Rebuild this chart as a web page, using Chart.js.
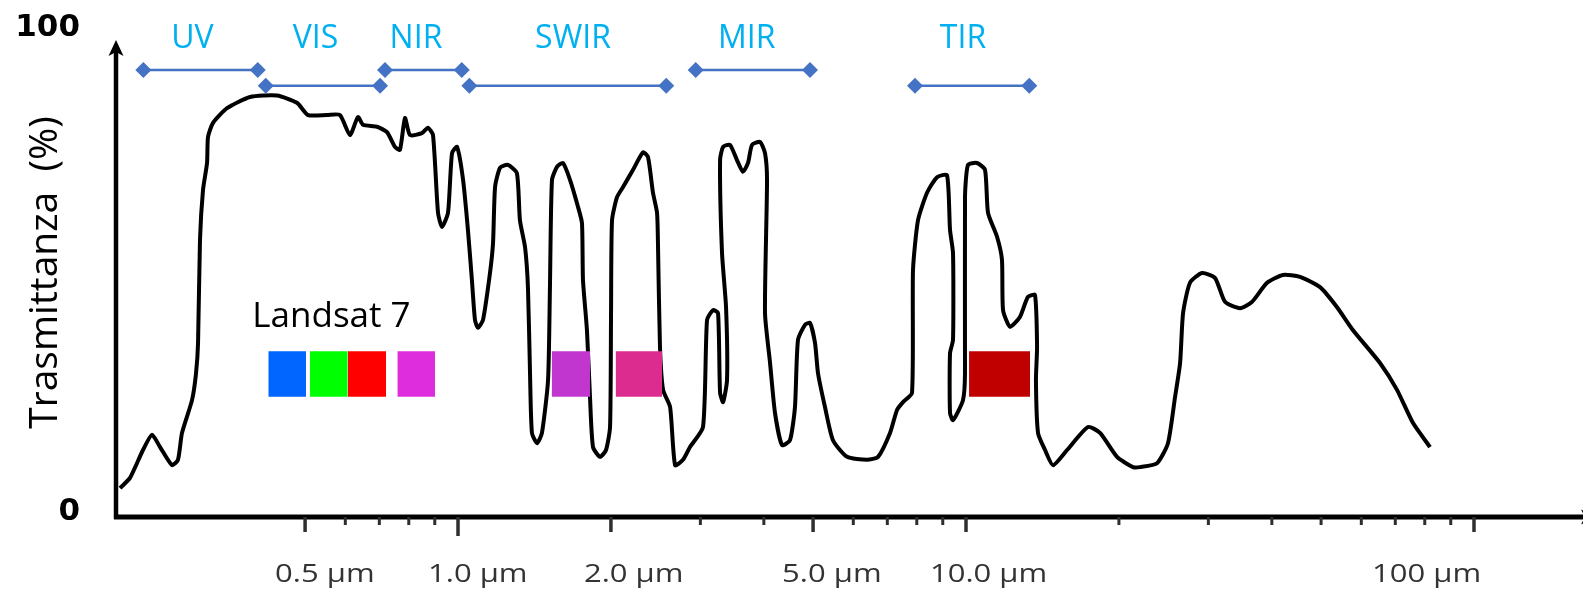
<!DOCTYPE html>
<html><head><meta charset="utf-8">
<script src="https://cdn.jsdelivr.net/npm/chart.js@4/dist/chart.umd.min.js"></script>
<style>html,body{margin:0;padding:0;background:#fff;}#wrap{width:1583px;height:589px;position:relative;}</style>
</head><body><div id="wrap"><canvas id="c"></canvas></div>
<script>
// Atmospheric transmittance curve (wavelength in µm, transmittance in %)
const wavelengthUm = [
0.2161,0.2261,0.2398,0.2498,0.2591,0.2735,0.2810,0.2862,0.2995,0.3050,0.3078,0.3105,0.3148,0.3206,0.3220,0.3294,0.3510,0.3896,0.4402,0.4819,
0.5067,0.5522,0.5855,0.6127,0.6354,0.6501,0.6928,0.7248,0.7515,0.7687,0.7864,0.8044,0.8494,0.8727,0.8928,0.9134,0.9300,0.9556,0.9732,0.9955,
1.023,1.046,1.065,1.080,1.095,1.120,1.156,1.172,1.183,1.210,1.254,1.306,1.324,1.355,1.373,1.386,1.398,1.431,1.463,1.504,
1.517,1.531,1.566,1.609,1.662,1.723,1.754,1.762,1.794,1.819,1.844,1.904,1.956,1.992,2.001,2.010,2.056,2.113,2.211,2.313,
2.366,2.420,2.465,2.476,2.498,2.533,2.615,2.675,2.773,2.862,3.036,3.092,3.177,3.250,3.280,3.325,3.385,3.370,3.309,3.280,
3.325,3.431,3.541,3.639,3.723,3.791,3.931,4.021,4.058,4.021,4.114,4.207,4.343,4.503,4.606,4.669,4.820,4.931,
5.044,5.113,5.277,5.472,5.833,6.385,6.712,7.087,7.315,7.516,7.829,7.865,8.045,8.381,8.770,9.176,9.301,9.428,9.428,9.301,
9.301,9.428,9.865,9.954,9.954,10.09,10.51,10.90,11.05,11.51,11.77,11.83,12.21,12.77,13.24,13.67,13.80,13.73,13.86,14.31,
14.84,15.81,17.39,18.36,19.83,21.32,22.00,23.77,24.98,25.79,26.39,26.75,27.60,29.15,30.92,32.35,34.63,36.56,39.14,42.07,
45.45,49.77,53.75,57.79,65.31,70.54,75.86,81.93];
const transmittance = [
5.9,8.0,13.7,16.8,14.3,10.6,11.7,17.2,23.9,29.4,35.6,56.6,66.9,72.4,77.7,80.6,83.6,85.9,86.2,84.7,
82.2,82.2,82.2,78.1,81.8,80.2,79.8,78.7,75.7,75.1,81.6,78.1,78.5,79.6,78.1,62.2,59.3,62.2,74.4,75.7,
69.0,58.7,48.5,40.3,38.7,40.3,49.9,56.0,67.5,71.4,72.0,70.3,60.7,55.2,47.0,29.4,17.2,15.1,17.2,28.0,
47.0,68.9,71.6,72.4,68.9,63.4,60.1,48.5,38.2,24.5,14.3,12.3,13.7,18.4,41.7,60.7,65.4,67.5,71.0,74.6,
73.6,66.3,62.2,55.2,34.8,26.0,22.5,10.6,11.7,14.3,18.4,40.3,42.3,41.7,25.4,23.5,28.0,42.9,54.0,73.0,
75.7,76.1,73.0,70.6,72.4,76.1,76.7,74.4,68.9,41.7,31.5,21.3,14.7,15.7,22.5,36.2,39.3,39.7,
35.6,29.4,22.5,15.7,12.3,11.7,12.3,17.2,21.9,23.5,25.4,50.5,60.7,66.3,69.5,69.9,58.7,54.0,36.2,33.5,
21.3,19.8,23.9,29.4,65.4,72.0,72.4,71.0,62.2,57.3,52.6,42.3,38.9,40.9,45.0,45.4,34.8,28.0,17.2,13.7,
10.6,13.7,18.4,17.2,12.3,10.2,10.2,11.0,15.1,24.5,31.5,41.7,47.9,49.9,48.9,44.0,42.7,44.0,47.9,49.5,
49.1,47.0,42.9,38.2,31.5,26.0,19.2,14.3];

// Spectral regions
const bandNames = ['UV','VIS','NIR','SWIR','MIR','TIR'];
const bandStartUm = [0.2402,0.4183,0.7183,1.053,2.937,7.937];
const bandEndUm   = [0.4034,0.7023,1.017,2.570,4.931,13.32];
const bandLevel   = [91.4,88.2,91.4,88.2,91.4,88.2];
const bandLabelUm = [0.3001,0.5242,0.8266,1.684,3.701,9.865];
const bandLabelLevel = 95.85;

// Landsat 7 bands
const landsatTitle = 'Landsat 7';
const landsatStartUm = [0.4232,0.5113,0.6065,0.7596,1.529,2.043,10.14];
const landsatEndUm   = [0.5021,0.6065,0.7216,0.9010,1.819,2.521,13.37];
const landsatColors  = ['#0066FF','#00FF00','#FF0000','#DD2DDD','#C236D0','#DC2C8F','#C00000'];
const landsatTop = 33.9;
const landsatBottom = 24.6;

// Axis ticks
const xTickLabelValues = [0.5,1,2,5,10,100];
const xTickLabels = ['0.5 µm','1.0 µm','2.0 µm','5.0 µm','10.0 µm','100 µm'];
const xMinorTickValues = [0.6,0.7,0.8,0.9,3,4,6,7,8,9,20,30,40,50,60,70,80,90];
const yTickValues = [0,100];
const yTickLabels = ['0','100'];
const xMin = 0.2122, xMax = 163.9;

// style-only offsets of tick label left edge relative to tick (px)
const xLabelShift = [-30,-30,-27,-31,-36,-102];

const datasets = [];
datasets.push({
  label:'Trasmittanza',
  data: wavelengthUm.map((w,i)=>({x:w,y:transmittance[i]})),
  borderColor:'#000', borderWidth:4, pointRadius:0, tension:0.2, fill:false, order:3
});
bandNames.forEach((n,i)=>{
  datasets.push({
    label:n,
    data:[{x:bandStartUm[i],y:bandLevel[i]},{x:bandEndUm[i],y:bandLevel[i]}],
    borderColor:'#4472C4', borderWidth:2.5, pointStyle:'rectRot', pointRadius:8,
    pointBackgroundColor:'#4472C4', pointBorderColor:'#4472C4', pointBorderWidth:0,
    fill:false, order:2, clip:false
  });
});
landsatStartUm.forEach((s,i)=>{
  datasets.push({
    label:'L7-'+(i+1),
    data:[{x:s,y:landsatTop},{x:landsatEndUm[i],y:landsatTop}],
    borderWidth:0, borderColor:'rgba(0,0,0,0)', pointRadius:0,
    backgroundColor:landsatColors[i], fill:{value:landsatBottom}, order:0
  });
});

const decor = {
  id:'decor',
  afterDatasetsDraw(chart){
    const {ctx, chartArea:a, scales:{x,y}} = chart;
    ctx.save();
    ctx.strokeStyle='#000'; ctx.fillStyle='#000';
    // y axis + arrow
    ctx.lineWidth=4.5;
    ctx.beginPath(); ctx.moveTo(a.left,a.bottom+2); ctx.lineTo(a.left,52); ctx.stroke();
    ctx.beginPath(); ctx.moveTo(a.left,40); ctx.lineTo(a.left-7.5,56); ctx.lineTo(a.left,52); ctx.lineTo(a.left+7.5,56); ctx.closePath(); ctx.fill();
    // x axis + arrow
    ctx.lineWidth=5;
    ctx.beginPath(); ctx.moveTo(a.left-2,a.bottom); ctx.lineTo(chart.width,a.bottom); ctx.stroke();
    ctx.beginPath(); ctx.moveTo(chart.width+14,a.bottom); ctx.lineTo(chart.width-2,a.bottom-7.5); ctx.lineTo(chart.width+2,a.bottom); ctx.lineTo(chart.width-2,a.bottom+7.5); ctx.closePath(); ctx.fill();
    // y tick labels
    ctx.font='bold 31px "DejaVu Sans"';
    ctx.textAlign='right'; ctx.textBaseline='middle';
    yTickValues.forEach((v,i)=>{
      ctx.fillText(yTickLabels[i], 80, y.getPixelForValue(v) - (v===0?5:0));
    });
    // x ticks
    ctx.strokeStyle='#2e2e2e';
    ctx.lineWidth=3;
    xMinorTickValues.forEach(v=>{
      const px=x.getPixelForValue(v);
      ctx.beginPath(); ctx.moveTo(px,a.bottom); ctx.lineTo(px,a.bottom+8); ctx.stroke();
    });
    ctx.lineWidth=3.5;
    xTickLabelValues.forEach(v=>{
      const px=x.getPixelForValue(v);
      ctx.beginPath(); ctx.moveTo(px,a.bottom); ctx.lineTo(px,a.bottom+(v===1?19:15)); ctx.stroke();
    });
    // x tick labels
    ctx.fillStyle='#333';
    ctx.font='25px "Open Sans"';
    ctx.textAlign='left'; ctx.textBaseline='alphabetic';
    xTickLabelValues.forEach((v,i)=>{
      const px=x.getPixelForValue(v)+xLabelShift[i];
      ctx.save(); ctx.translate(px,582); ctx.scale(1.24,1); ctx.fillText(xTickLabels[i],0,0); ctx.restore();
    });
    // band labels
    ctx.fillStyle='#00B0F0';
    ctx.font='32px "Open Sans"';
    ctx.textAlign='center';
    bandNames.forEach((n,i)=>{
      ctx.fillText(n, x.getPixelForValue(bandLabelUm[i]), y.getPixelForValue(bandLabelLevel));
    });
    // Landsat title
    ctx.fillStyle='#000';
    ctx.font='35px "Open Sans"';
    ctx.textAlign='left';
    ctx.fillText(landsatTitle, x.getPixelForValue(landsatStartUm[0])-16, y.getPixelForValue(landsatTop)-24);
    ctx.restore();
  }
};

new Chart(document.getElementById('c'), {
  type:'line',
  data:{datasets},
  options:{
    responsive:true, maintainAspectRatio:false, animation:false, events:[],
    layout:{autoPadding:false, padding:{top:28,right:0,bottom:0,left:0}},
    plugins:{legend:{display:false}, tooltip:{enabled:false}},
    scales:{
      x:{type:'logarithmic', min:xMin, max:xMax,
        afterFit(s){s.height=72;},
        ticks:{display:false}, grid:{display:false, drawTicks:false}, border:{display:false}},
      y:{type:'linear', min:0, max:100,
        afterFit(s){s.width=116;},
        ticks:{display:false},
        grid:{display:false, drawTicks:false}, border:{display:false},
        title:{display:true, text:'Trasmittanza  (%)', font:{family:'Open Sans', size:39}, color:'#000', padding:{top:22,bottom:0}}}
    }
  },
  plugins:[decor]
});
</script></body></html>
